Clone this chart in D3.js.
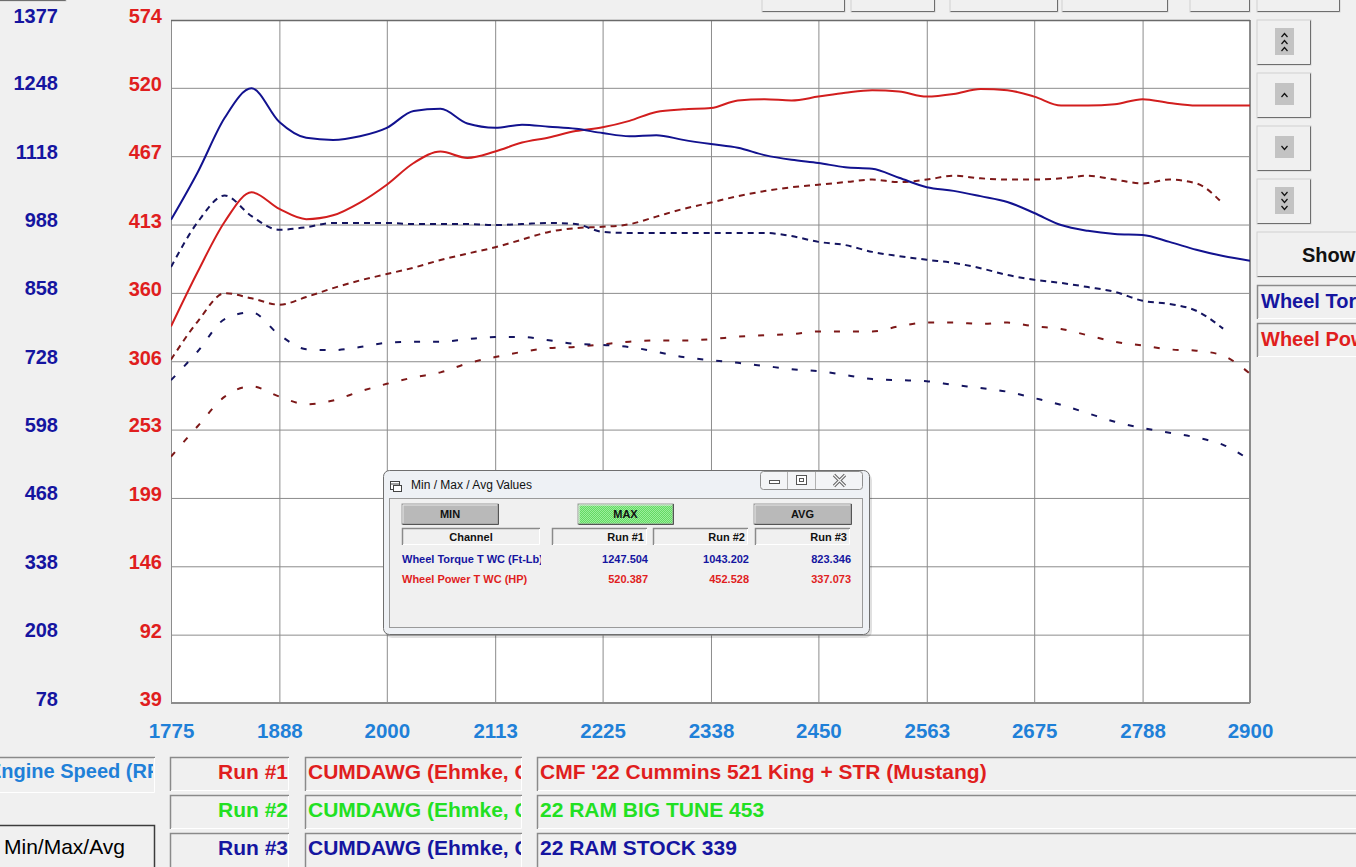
<!DOCTYPE html>
<html><head><meta charset="utf-8">
<script src="https://cdn.jsdelivr.net/npm/d3@7"></script>
<style>
html,body{margin:0;padding:0;background:#f0f0f0;overflow:hidden}
svg{display:block}
text{font-family:"Liberation Sans",Arial,sans-serif}
</style></head><body>
<svg id="c" width="1356" height="867"></svg>
<script>
// ---------- DATA ----------
const rpm = [1775,1803,1831,1859,1888,1916,1944,1972,2000,2028,2056,2084,2113,2141,2169,2197,2225,2253,2281,2309,2338,2366,2394,2422,2450,2478,2506,2534,2563,2591,2619,2647,2675,2703,2731,2759,2788,2816,2844,2872,2900];
const run1Torque = [997,1088,1191,1247,1183,1153,1149,1156,1172,1204,1208,1180,1172,1178,1174,1170,1162,1156,1158,1149,1141,1134,1120,1111,1105,1097,1094,1077,1059,1052,1042,1031,1010,987,976,970,968,955,940,928,919];
const run1Power  = [334,377,416,439,426,418,421,431,445,462,471,466,471,478,482,487,490,495,502,504,505,511,512,511,514,517,519,518,514,516,520,519,514,507,507,508,512,509,507,507,507];
const run2Torque = [907,993,1043,1004,978,983,991,991,991,989,989,989,987,989,991,989,974,972,972,972,972,972,972,966,955,949,936,928,921,915,905,892,883,877,869,860,843,837,824,790,null];
const run2Power  = [308,338,360,356,351,357,364,370,375,380,386,391,396,402,408,411,412,414,420,426,431,436,440,443,445,447,449,447,449,452,450,449,449,450,452,449,446,449,446,430,null];
const run3Torque = [692,747,808,821,778,751,749,755,763,765,765,770,774,774,768,761,759,755,746,736,730,725,719,713,709,702,694,692,690,683,677,670,658,645,629,613,601,592,583,569,540];
const run3Power  = [232,256,279,287,279,273,276,283,289,294,298,305,310,314,317,318,320,322,323,323,324,326,327,328,330,330,330,334,337,337,336,337,334,332,327,322,319,316,315,311,297];

const xTicks = [1775,1888,2000,2113,2225,2338,2450,2563,2675,2788,2900];
const torqueTicks = [78,208,338,468,598,728,858,988,1118,1248,1377];
const powerTicks  = [39,92,146,199,253,306,360,413,467,520,574];

const runLabels = ["Run #1","Run #2","Run #3"];
const runOperator = ["CUMDAWG (Ehmke, Co)","CUMDAWG (Ehmke, Co)","CUMDAWG (Ehmke, Co)"];
const runNames = ["CMF '22 Cummins 521 King + STR (Mustang)","22 RAM BIG TUNE 453","22 RAM STOCK 339"];
const channels = ["Wheel Torque T WC (Ft-Lb)","Wheel Power T WC (HP)"];
const maxTorque = ["1247.504","1043.202","823.346"];
const maxPower  = ["520.387","452.528","337.073"];

// ---------- LAYOUT ----------
const PL=171, PR=1250, PT=20, PB=703;
const svg = d3.select("#c");
const x  = d3.scaleLinear().domain([1775,2900]).range([PL,PR]);
const yT = d3.scaleLinear().domain([78,1377]).range([PB,PT]);
const yP = d3.scaleLinear().domain([39,574]).range([PB,PT]);

const BLUE="#1515a0", RED="#e01e1e", LBLUE="#1f80d8", GREEN="#22e022";

const defs = svg.append("defs");
defs.append("clipPath").attr("id","plotclip").append("rect")
  .attr("x",PL).attr("y",PT).attr("width",PR-PL).attr("height",PB-PT);
const pat = defs.append("pattern").attr("id","hatch").attr("width",2).attr("height",2).attr("patternUnits","userSpaceOnUse");
pat.append("rect").attr("width",2).attr("height",2).attr("fill","#63d963");
pat.append("rect").attr("width",1).attr("height",1).attr("fill","#9bef9b");
pat.append("rect").attr("x",1).attr("y",1).attr("width",1).attr("height",1).attr("fill","#9bef9b");

function clipRect(id,x0,y0,w,h){defs.append("clipPath").attr("id",id).append("rect").attr("x",x0).attr("y",y0).attr("width",w).attr("height",h);}

function raised(g,x0,y0,w,h,fill){
  g.append("rect").attr("x",x0).attr("y",y0).attr("width",w).attr("height",h).attr("fill",fill||"#f0f0f0").attr("stroke","#d0d0d0");
  g.append("path").attr("d",`M${x0+0.5},${y0+h-0.5}H${x0+w-0.5}V${y0+0.5}`).attr("fill","none").attr("stroke","#6e6e6e");
}
function sunken(g,x0,y0,w,h){
  g.append("rect").attr("x",x0).attr("y",y0).attr("width",w).attr("height",h).attr("fill","#f0f0f0");
  g.append("path").attr("d",`M${x0+0.5},${y0+h}V${y0+0.5}H${x0+w}`).attr("fill","none").attr("stroke","#8a8a8a").attr("stroke-width",1.5);
  g.append("path").attr("d",`M${x0+1},${y0+h-0.5}H${x0+w-0.5}V${y0+1}`).attr("fill","none").attr("stroke","#ffffff");
}

// top buttons (partially visible)
const topG = svg.append("g");
[[762,845],[851,935],[950,1058],[1062,1168],[1190,1250],[1257,1340]].forEach(b=>raised(topG,b[0],-6,b[1]-b[0],18));
raised(topG,-2,-20,68,21);

// plot background
svg.append("rect").attr("x",PL).attr("y",PT).attr("width",PR-PL).attr("height",PB-PT).attr("fill","#ffffff");

// grid via axes
const gy = svg.append("g").attr("transform",`translate(${PL},0)`)
  .call(d3.axisLeft(yT).tickValues(torqueTicks).tickSize(-(PR-PL)).tickFormat(""));
gy.select(".domain").remove();
gy.selectAll("line").attr("stroke","#8c8c8c");
const gx = svg.append("g").attr("transform",`translate(0,${PB})`)
  .call(d3.axisBottom(x).tickValues(xTicks).tickSize(-(PB-PT)).tickFormat(""));
gx.select(".domain").remove();
gx.selectAll("line").attr("stroke","#8c8c8c");

// border
svg.append("rect").attr("x",PL+0.5).attr("y",PT+0.5).attr("width",PR-PL-1).attr("height",PB-PT-1).attr("fill","none").attr("stroke","#8c8c8c");
svg.append("line").attr("x1",PL).attr("x2",PR).attr("y1",PT+0.5).attr("y2",PT+0.5).attr("stroke","#6a6a6a").attr("stroke-width",1.5);

// axis labels
function styleAxis(g,color,size){
  g.select(".domain").remove();
  g.selectAll("text").attr("fill",color).attr("font-size",size).attr("font-weight","bold").attr("font-family",'"Liberation Sans",Arial,sans-serif');
}
const ax1 = svg.append("g").attr("transform","translate(58,0)")
  .call(d3.axisLeft(yT).tickValues(torqueTicks).tickSize(0).tickPadding(0).tickFormat(d3.format("d")));
styleAxis(ax1,BLUE,20); ax1.selectAll("text").attr("dy","0.1em");
const ax2 = svg.append("g").attr("transform","translate(162,0)")
  .call(d3.axisLeft(yP).tickValues(powerTicks).tickSize(0).tickPadding(0).tickFormat(d3.format("d")));
styleAxis(ax2,RED,20); ax2.selectAll("text").attr("dy","0.1em");
const ax3 = svg.append("g").attr("transform","translate(0,720)")
  .call(d3.axisBottom(x).tickValues(xTicks).tickSize(0).tickPadding(3).tickFormat(d3.format("d")));
styleAxis(ax3,LBLUE,20.5);

// series
const series = [
  {v:run3Power,  s:yP, c:"#7d1818", dash:"6,13"},
  {v:run3Torque, s:yT, c:"#141460", dash:"6,13"},
  {v:run2Power,  s:yP, c:"#7d1818", dash:"6,5"},
  {v:run2Torque, s:yT, c:"#141460", dash:"6,5"},
  {v:run1Power,  s:yP, c:"#d21e1e", dash:null},
  {v:run1Torque, s:yT, c:"#12128f", dash:null}
];
const lg = svg.append("g").attr("clip-path","url(#plotclip)");
series.forEach(se=>{
  const pts = rpm.map((r,i)=>[r,se.v[i]]);
  const line = d3.line().defined(d=>d[1]!=null).x(d=>x(d[0])).y(d=>se.s(d[1])).curve(d3.curveMonotoneX);
  const p = lg.append("path").datum(pts).attr("d",line).attr("fill","none").attr("stroke",se.c).attr("stroke-width",2).attr("stroke-linejoin","round");
  if(se.dash) p.attr("stroke-dasharray",se.dash);
});

// ---------- dialog ----------
const dg = svg.append("g");
dg.append("rect").attr("x",385).attr("y",473).attr("width",487).attr("height",165).attr("rx",7).attr("fill","#000").attr("opacity",0.12);
dg.append("rect").attr("x",383.5).attr("y",470.5).attr("width",486).attr("height",164).attr("rx",6).attr("fill","#eef1f5").attr("stroke","#6f6f6f");
dg.append("rect").attr("x",389.5).attr("y",498.5).attr("width",473).attr("height",129).attr("fill","#f0f0f0").attr("stroke","#9a9a9a");
// title icon
dg.append("rect").attr("x",390.5).attr("y",481.5).attr("width",9).attr("height",8).attr("fill","#fff").attr("stroke","#444");
dg.append("line").attr("x1",390).attr("x2",400).attr("y1",484).attr("y2",484).attr("stroke","#444");
dg.append("rect").attr("x",393.5).attr("y",485.5).attr("width",8).attr("height",6).attr("fill","#fff").attr("stroke","#444");
dg.append("text").attr("x",411).attr("y",489).attr("font-size",12).attr("fill","#111").text("Min / Max / Avg Values");
// window controls
dg.append("rect").attr("x",760.5).attr("y",471.5).attr("width",102).attr("height",18).attr("rx",3).attr("fill","#f3f4f6").attr("stroke","#8f8f8f");
dg.append("line").attr("x1",787.5).attr("x2",787.5).attr("y1",472).attr("y2",489).attr("stroke","#b0b0b0");
dg.append("line").attr("x1",815.5).attr("x2",815.5).attr("y1",472).attr("y2",489).attr("stroke","#b0b0b0");
dg.append("rect").attr("x",769.5).attr("y",480.5).attr("width",10).attr("height",3).attr("fill","#fff").attr("stroke","#555");
dg.append("rect").attr("x",796.5).attr("y",475.5).attr("width",10).attr("height",9).attr("fill","#fff").attr("stroke","#555");
dg.append("rect").attr("x",799.5).attr("y",478.5).attr("width",4).attr("height",3).attr("fill","none").attr("stroke","#555");
dg.append("path").attr("d","M834,475L845,486M845,475L834,486").attr("stroke","#666").attr("stroke-width",3.2);
dg.append("path").attr("d","M834,475L845,486M845,475L834,486").attr("stroke","#f5f5f5").attr("stroke-width",1.2);
// buttons
function dlgBtn(x0,w,label,fill){
  dg.append("rect").attr("x",x0).attr("y",504).attr("width",w).attr("height",20).attr("fill",fill).attr("stroke","#9a9a9a");
  dg.append("path").attr("d",`M${x0+0.5},${524.5}H${x0+w+0.5}V504`).attr("fill","none").attr("stroke","#555");
  dg.append("path").attr("d",`M${x0+1},${523}V${505}H${x0+w-1}`).attr("fill","none").attr("stroke","#e8e8e8");
  dg.append("text").attr("x",x0+w/2).attr("y",518).attr("text-anchor","middle").attr("font-size",11).attr("font-weight","bold").attr("fill","#111").text(label);
}
dlgBtn(402,96,"MIN","#b9b9b9");
dlgBtn(578,95,"MAX","url(#hatch)");
dlgBtn(754,97,"AVG","#b9b9b9");
// header cells
function hdr(x0,w,label,anchor){
  sunken(dg,x0,528,w,17);
  dg.append("text").attr("x",anchor==="middle"?x0+w/2:x0+w-3).attr("y",541).attr("text-anchor",anchor).attr("font-size",11).attr("font-weight","bold").attr("fill","#111").text(label);
}
hdr(402,138,"Channel","middle");
hdr(552,95,runLabels[0],"end");
hdr(653,95,runLabels[1],"end");
hdr(755,95,runLabels[2],"end");
clipRect("chclip",400,548,141,40);
const rowY=[563,583], rowC=[BLUE,RED], rowV=[maxTorque,maxPower];
rowY.forEach((yy,i)=>{
  dg.append("text").attr("x",402).attr("y",yy).attr("clip-path","url(#chclip)").attr("font-size",11).attr("font-weight","bold").attr("fill",rowC[i]).text(channels[i]);
  [648,749,851].forEach((xx,j)=>{
    dg.append("text").attr("x",xx).attr("y",yy).attr("text-anchor","end").attr("font-size",11).attr("font-weight","bold").attr("fill",rowC[i]).text(rowV[i][j]);
  });
});

// ---------- right panel ----------
const rp = svg.append("g");
const arrowBtns=[[20,3,-1],[73,1,-1],[126,1,1],[179,3,1]];
arrowBtns.forEach(b=>{
  const y0=b[0];
  raised(rp,1257,y0,54,45);
  const iy = y0+8, ih = b[1]===3?27:22;
  rp.append("rect").attr("x",1275).attr("y",iy+(b[1]===3?0:2)).attr("width",19).attr("height",ih).attr("fill","#c3c3c3");
  const cy = y0+22;
  const offs = b[1]===3?[-7,0,7]:[0];
  offs.forEach(o=>{
    const yc=cy+o;
    const d = b[2]<0 ? `M1281.5,${yc+2}L1284.5,${yc-1.5}L1287.5,${yc+2}` : `M1281.5,${yc-2}L1284.5,${yc+1.5}L1287.5,${yc-2}`;
    rp.append("path").attr("d",d).attr("fill","none").attr("stroke","#111").attr("stroke-width",1.2);
  });
});
raised(rp,1257,232,110,45);
rp.append("text").attr("x",1302).attr("y",262).attr("font-size",20).attr("font-weight","bold").attr("fill","#111").text("Show");
clipRect("rpclip",1257,280,99,80);
sunken(rp,1257,285,110,34);
rp.append("text").attr("x",1261).attr("y",308).attr("clip-path","url(#rpclip)").attr("font-size",20).attr("font-weight","bold").attr("fill",BLUE).text("Wheel Torque T WC");
sunken(rp,1257,323,110,34);
rp.append("text").attr("x",1261).attr("y",346).attr("clip-path","url(#rpclip)").attr("font-size",20).attr("font-weight","bold").attr("fill",RED).text("Wheel Power T WC");

// ---------- bottom panel ----------
const bp = svg.append("g");
sunken(bp,-2,757,157,36);
clipRect("esclip",0,757,153,36);
bp.append("text").attr("x",-12).attr("y",778).attr("clip-path","url(#esclip)").attr("font-size",20).attr("font-weight","bold").attr("fill",LBLUE).text("Engine Speed (RPM)");
const rowTop=[757,795,833], rowBase=[778.5,816.5,854.5], runCol=[RED,GREEN,BLUE];
rowTop.forEach((ty,i)=>{
  sunken(bp,170,ty,119,i===2?36:34);
  bp.append("text").attr("x",288).attr("y",rowBase[i]).attr("text-anchor","end").attr("font-size",21).attr("font-weight","bold").attr("fill",runCol[i]).text(runLabels[i]);
  sunken(bp,305,ty,217,i===2?36:34);
  clipRect("opclip"+i,305,ty,216,36);
  bp.append("text").attr("x",308).attr("y",rowBase[i]).attr("clip-path",`url(#opclip${i})`).attr("font-size",21).attr("font-weight","bold").attr("fill",runCol[i]).text(runOperator[i]);
  sunken(bp,537,ty,830,i===2?36:34);
  bp.append("text").attr("x",540).attr("y",rowBase[i]).attr("font-size",21).attr("font-weight","bold").attr("fill",runCol[i]).text(runNames[i]);
});
// Min/Max/Avg button
bp.append("rect").attr("x",-2).attr("y",825).attr("width",157).attr("height",50).attr("fill","#f0f0f0");
bp.append("path").attr("d","M-2,825.5H154.5V868").attr("fill","none").attr("stroke","#3c3c3c").attr("stroke-width",1.5);
bp.append("text").attr("x",4).attr("y",854).attr("font-size",21).attr("fill","#000").text("Min/Max/Avg");
</script>
</body></html>
